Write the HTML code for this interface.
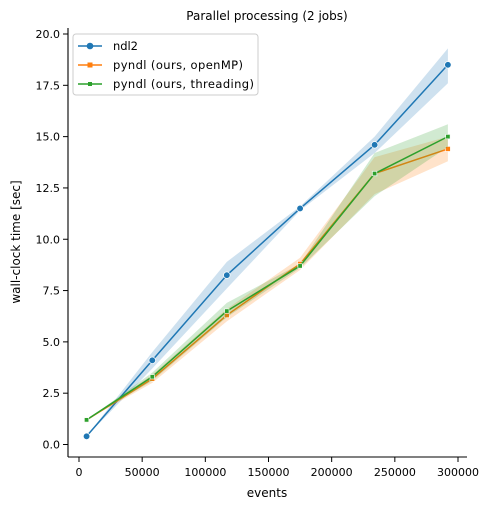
<!DOCTYPE html>
<html><head><meta charset="utf-8"><style>
body{margin:0;background:#fff;}
svg{font-family:"DejaVu Sans","Liberation Sans",sans-serif;}
</style></head><body>
<svg id="chart" width="491" height="509" xmlns="http://www.w3.org/2000/svg"></svg>
<script>
const xs = [6000, 58000, 117000, 175000, 234000, 292000];
const ndl2 = [0.4, 4.1, 8.25, 11.5, 14.6, 18.5];
const ndl2Lo = [0.4, 3.7, 7.6, 11.4, 14.2, 17.6];
const ndl2Hi = [0.4, 4.5, 8.9, 11.6, 15.0, 19.3];
const omp = [1.2, 3.2, 6.3, 8.8, 13.2, 14.4];
const ompLo = [1.2, 3.0, 6.0, 8.5, 12.2, 13.8];
const ompHi = [1.2, 3.4, 6.6, 9.1, 14.0, 15.0];
const thr = [1.2, 3.3, 6.5, 8.7, 13.2, 15.0];
const thrLo = [1.2, 3.1, 6.2, 8.6, 12.1, 14.5];
const thrHi = [1.2, 3.5, 6.9, 8.8, 14.2, 15.6];
const xTicks = [0, 50000, 100000, 150000, 200000, 250000, 300000];
const yTicks = [0, 2.5, 5, 7.5, 10, 12.5, 15, 17.5, 20];

const NS = "http://www.w3.org/2000/svg";
const svg = document.getElementById('chart');
const X = v => 79 + v * (379 / 300000);
const Y = v => 444.5 - v * (410.5 / 20);
function mk(tag, attrs, parent) {
  const e = document.createElementNS(NS, tag);
  for (const k in attrs) e.setAttribute(k, attrs[k]);
  (parent || svg).appendChild(e);
  return e;
}
function txt(s, attrs) { const t = mk('text', attrs); t.textContent = s; return t; }

let e = mk('line', {x1: 68, y1: 28, x2: 68, y2: 457, stroke: '#000', 'stroke-width': 1.1});


e = mk('line', {x1: 68, y1: 457, x2: 467, y2: 457, stroke: '#000', 'stroke-width': 1.1});



xTicks.forEach(t => {
  mk('line', {x1: X(t), y1: 457, x2: X(t), y2: 462, stroke: '#000'});
  const l = txt(String(t), {x: X(t), y: 476, 'font-size': 11, 'text-anchor': 'middle'});
  
  
});
yTicks.forEach(t => {
  mk('line', {x1: 63, y1: Y(t), x2: 68, y2: Y(t), stroke: '#000'});
  const l = txt(t.toFixed(1), {x: 60, y: Y(t) + 4, 'font-size': 11, 'text-anchor': 'end'});
  
  
});
e = txt('events', {x: 267, y: 497, 'font-size': 12, 'text-anchor': 'middle'});


e = txt('wall-clock time [sec]', {x: 0, y: 0, 'font-size': 12, 'text-anchor': 'middle', transform: 'translate(20,242) rotate(-90)'});


e = txt('Parallel processing (2 jobs)', {x: 267, y: 20, 'font-size': 12, 'text-anchor': 'middle'});



function series(name, vals, lo, hi, color, marker) {
  const up = xs.map((x, i) => X(x) + ',' + Y(hi[i]));
  const dn = xs.map((x, i) => X(x) + ',' + Y(lo[i])).reverse();
  const b = mk('polygon', {points: up.concat(dn).join(' '), fill: color, 'fill-opacity': 0.22});
  
  
  const l = mk('polyline', {points: xs.map((x, i) => X(x) + ',' + Y(vals[i])).join(' '), fill: 'none', stroke: color, 'stroke-width': 1.5});
  
  
  xs.forEach((x, i) => {
    let m;
    if (marker === 'circle') m = mk('circle', {cx: X(x), cy: Y(vals[i]), r: 3.3, fill: color, stroke: '#fff', 'stroke-width': 0.7});
    else if (marker === 'x') m = mk('rect', {x: X(x) - 2.5, y: Y(vals[i]) - 2.5, width: 5, height: 5, fill: color, stroke: '#fff', 'stroke-width': 0.6});
    else m = mk('rect', {x: X(x) - 2.2, y: Y(vals[i]) - 2.2, width: 4.4, height: 4.4, fill: color, stroke: '#fff', 'stroke-width': 0.6});
    
    
  });
}
series('ndl2', ndl2, ndl2Lo, ndl2Hi, '#1f77b4', 'circle');
series('openmp', omp, ompLo, ompHi, '#ff7f0e', 'x');
series('threading', thr, thrLo, thrHi, '#2ca02c', 'sq');

const lg = mk('g', {});


mk('rect', {x: 73, y: 34, width: 185, height: 61, rx: 3, fill: '#fff', 'fill-opacity': 0.85, stroke: '#ccc'}, lg);
[['ndl2', '#1f77b4', 'circle'], ['pyndl (ours, openMP)', '#ff7f0e', 'x'], ['pyndl (ours, threading)', '#2ca02c', 'sq']].forEach((d, i) => {
  const y = 46 + i * 19;
  const g = mk('g', {}, lg);
  
  
  mk('line', {x1: 78, y1: y, x2: 102, y2: y, stroke: d[1], 'stroke-width': 1.5}, g);
  if (d[2] === 'circle') mk('circle', {cx: 90, cy: y, r: 3.3, fill: d[1]}, g);
  else if (d[2] === 'x') mk('rect', {x: 87.5, y: y - 2.5, width: 5, height: 5, fill: d[1]}, g);
  else mk('rect', {x: 88, y: y - 2, width: 4, height: 4, fill: d[1]}, g);
  const t = mk('text', {x: 113, y: y + 4, 'font-size': 11.5, textLength: i === 0 ? 25 : (i === 1 ? 130 : 141)}, g);
  t.textContent = d[0];
});
</script>
</body></html>
